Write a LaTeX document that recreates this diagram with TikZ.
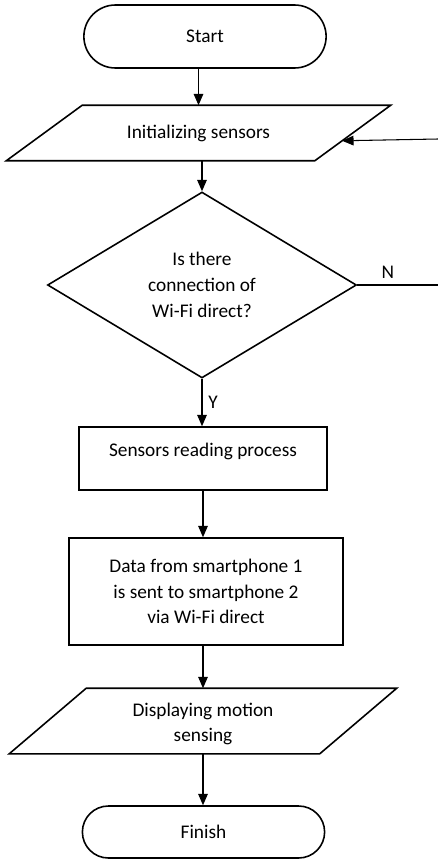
\documentclass[tikz,border=0pt]{standalone}
\usepackage{fontspec}
\setmainfont{Carlito}
\usetikzlibrary{shapes.geometric,shapes.misc,arrows.meta,calc}
\begin{document}
\begin{tikzpicture}[x=0.02cm,y=-0.02cm,
    box/.style={draw,line width=0.9pt,align=center,font=\fontsize{11}{14.7}\selectfont},
    term/.style={box,rounded rectangle,minimum width=5.08cm},
    io/.style={box,draw=none},
    slant/.style={line width=0.9pt},
    arr/.style={line width=0.6pt,-{Triangle[width=5.5pt,length=6.5pt]}}]
    \useasboundingbox (0,0) rectangle (438,859);
    \node[term,minimum height=1.26cm] (start) at (205,36.5) {Start};
    \node[io,minimum width=7.66cm,minimum height=1.08cm] (init) at (198.5,133) {Initializing sensors};
    \draw[slant] (init.south west) -- ([xshift=1.52cm]init.north west) -- (init.north east) -- ([xshift=-1.52cm]init.south east) -- cycle;
    \node[box,diamond,minimum width=6.18cm,minimum height=3.72cm,inner sep=0pt] (wifi) at (202,285) {Is there\\connection of\\Wi-Fi direct?};
    \node[box,minimum width=4.96cm,minimum height=1.26cm,text depth=0.33cm] (read) at (203,458.5) {Sensors reading process};
    \node[box,minimum width=5.48cm,minimum height=2.14cm] (send) at (206,591.5) {Data from smartphone 1\\is sent to smartphone 2\\via Wi-Fi direct};
    \node[io,minimum width=7.72cm,minimum height=1.28cm] (show) at (203,724) {Displaying motion\\sensing};
    \draw[slant] ([yshift=0.06cm]show.south west) -- ([xshift=1.54cm,yshift=0.06cm]show.north west) -- ([yshift=0.06cm]show.north east) -- ([xshift=-1.54cm,yshift=0.06cm]show.south east) -- cycle;
    \node[term,minimum height=1.04cm] (finish) at (203.5,832) {Finish};
    \coordinate (nend) at (438,285); \coordinate (rin) at (438,139);
    \coordinate (iin) at ($([xshift=-1.52cm]init.south east)!0.36!(init.north east)$);
    \draw[arr] (init.north |- start.south) -- (init.north);
    \draw[arr] (wifi.north |- init.south) -- (wifi.north);
    \draw[arr] (wifi.south) -- node[right,font=\fontsize{11}{13}\selectfont] {Y} (read.north -| wifi.south);
    \draw[arr] (read.south) -- (send.north -| read.south);
    \draw[arr] (show.north |- send.south) -- ([yshift=0.06cm]show.north);
    \draw[arr] ([yshift=0.06cm]show.south) -- (finish.north -| show.south);
    \draw[line width=0.6pt] (wifi.east) -- node[above,pos=0.38,font=\fontsize{11}{13}\selectfont] {N} (nend);
    \draw[arr] (rin) -- (iin);
  \end{tikzpicture}
\end{document}
